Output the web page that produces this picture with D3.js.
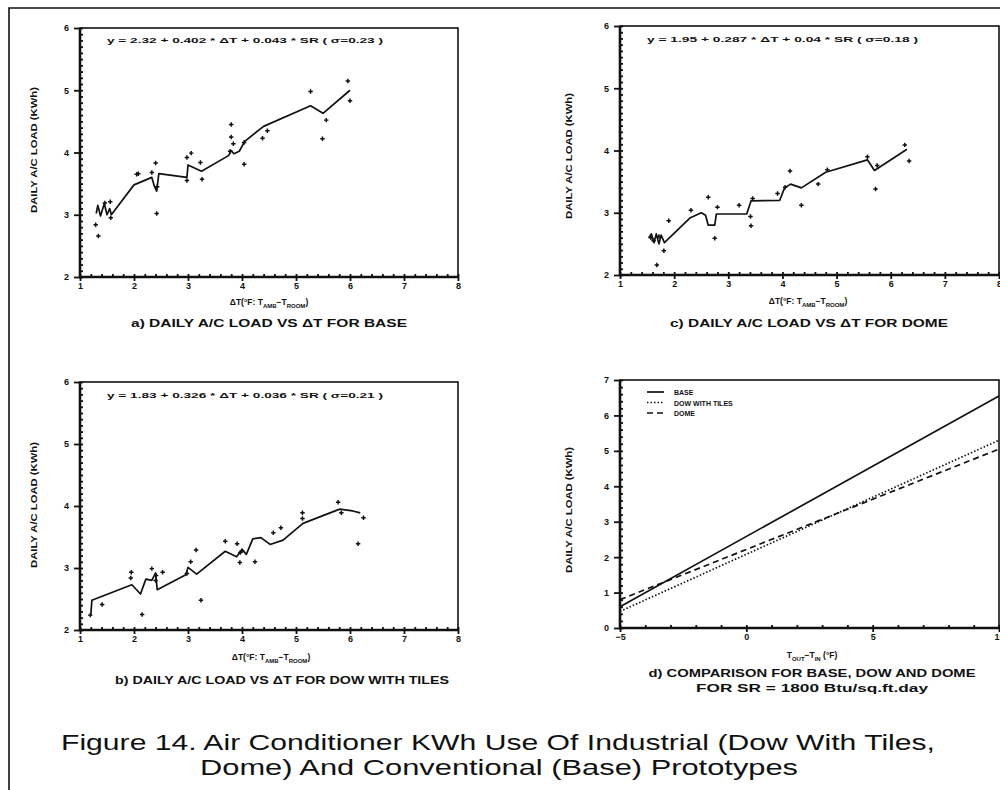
<!DOCTYPE html>
<html><head><meta charset="utf-8">
<script src="https://cdn.jsdelivr.net/npm/d3@7"></script>
<style>
body{margin:0;background:#fff;}
svg text{font-family:"Liberation Sans",Arial,sans-serif;font-weight:bold;fill:#111;}
</style></head>
<body><svg id="c" width="1000" height="790"></svg>
<script>
// ---------- DATA ----------
// Panel a) BASE
const A_dT   = [1.29,1.34,1.46,1.56,1.57,2.05,2.08,2.33,2.40,2.42,2.43,2.98,3.06,2.98,3.23,3.26,3.80,3.80,3.78,3.84,4.04,4.04,4.38,4.47,5.27,5.49,5.56,5.96,6.00];
const A_load = [2.84,2.66,3.19,3.21,2.95,3.65,3.66,3.68,3.83,3.02,3.45,3.92,3.99,3.55,3.84,3.57,4.45,4.25,4.02,4.14,4.16,3.81,4.23,4.35,4.98,4.22,4.52,5.15,4.83];
const A_fitX = [1.30,1.33,1.38,1.45,1.50,1.55,1.58,2.00,2.33,2.38,2.42,2.46,2.98,3.00,3.05,3.25,3.75,3.80,3.85,3.95,4.05,4.40,5.27,5.50,6.00];
const A_fitY = [3.02,3.15,2.98,3.18,3.00,3.10,3.00,3.48,3.60,3.45,3.38,3.66,3.60,3.80,3.78,3.70,3.95,4.03,3.98,4.02,4.18,4.42,4.75,4.63,5.00];
// Panel c) DOME
const C_dT   = [1.57,1.62,1.68,1.72,1.81,1.90,2.31,2.63,2.75,2.80,3.20,3.42,3.41,3.45,3.91,4.05,4.14,4.35,4.66,4.83,5.57,5.72,5.75,6.26,6.34];
const C_load = [2.60,2.55,2.16,2.62,2.39,2.87,3.04,3.25,2.59,3.09,3.12,2.79,2.94,3.23,3.31,3.41,3.67,3.12,3.46,3.69,3.90,3.38,3.76,4.09,3.83];
const C_fitX = [1.53,1.58,1.63,1.67,1.72,1.76,1.82,2.30,2.50,2.58,2.63,2.75,2.78,3.34,3.42,3.95,4.04,4.15,4.35,4.80,5.57,5.70,6.30];
const C_fitY = [2.60,2.66,2.52,2.66,2.50,2.64,2.52,2.92,3.00,2.96,2.80,2.80,2.98,2.98,3.19,3.20,3.40,3.46,3.40,3.65,3.85,3.68,4.02];
// Panel b) DOW WITH TILES
const B_dT   = [1.19,1.41,1.94,1.95,2.15,2.33,2.40,2.41,2.53,2.98,3.05,3.15,3.24,3.69,3.91,3.96,3.97,4.00,4.24,4.58,4.72,5.12,5.12,5.78,5.84,6.15,6.25];
const B_load = [2.24,2.41,2.84,2.93,2.25,2.99,2.80,2.88,2.93,2.91,3.10,3.29,2.48,3.43,3.39,3.09,3.25,3.28,3.10,3.57,3.65,3.89,3.80,4.06,3.89,3.39,3.81];
const B_fitX = [1.20,1.22,1.96,2.12,2.22,2.33,2.40,2.43,2.96,3.00,3.16,3.69,3.90,4.00,4.08,4.20,4.35,4.52,4.76,5.13,5.81,6.05,6.19];
const B_fitY = [2.24,2.48,2.73,2.58,2.82,2.80,2.92,2.65,2.89,3.01,2.90,3.27,3.18,3.30,3.22,3.47,3.49,3.38,3.45,3.72,3.95,3.92,3.89];
// Panel d) comparison lines (T_out - T_in)
const D_x     = [-5, 10];
const D_base  = [0.60, 6.55];
const D_dow   = [0.47, 5.30];
const D_dome  = [0.80, 5.05];
const D_names = ["BASE", "DOW WITH TILES", "DOME"];
// Ticks
const scatterXTicks = [1,2,3,4,5,6,7,8];
const scatterYTicks = [2,3,4,5,6];
const compXTicks = [-5,0,5,10];
const compYTicks = [0,1,2,3,4,5,6,7];
// Texts
const eqA = "y = 2.32 + 0.402 * ΔT + 0.043 * SR ( σ=0.23 )";
const eqC = "y = 1.95 + 0.287 * ΔT + 0.04 * SR ( σ=0.18 )";
const eqB = "y = 1.83 + 0.326 * ΔT + 0.036 * SR ( σ=0.21 )";
const capA = "a) DAILY A/C LOAD VS ΔT FOR BASE";
const capC = "c) DAILY A/C LOAD VS ΔT FOR DOME";
const capB = "b) DAILY A/C LOAD VS ΔT FOR DOW WITH TILES";
const capD1 = "d) COMPARISON FOR BASE, DOW AND DOME";
const capD2 = "FOR SR = 1800 Btu/sq.ft.day";
const yTitle = "DAILY A/C LOAD (KWh)";
const title1 = "Figure 14. Air Conditioner KWh Use Of Industrial (Dow With Tiles,";
const title2 = "Dome) And Conventional (Base) Prototypes";

// ---------- DRAW ----------
const svg = d3.select("#c");
svg.append("rect").attr("width",1000).attr("height",790).attr("fill","#fff");
// frame
svg.append("path").attr("d","M9,790 V8 H1000").attr("fill","none").attr("stroke","#111").attr("stroke-width",1.6);

function frame(g, x, y, minorX, minorY, xt, yt){
  const [x0,x1] = x.range(), [y0,y1] = y.range();
  g.append("g").attr("transform",`translate(0,${y0})`)
    .call(d3.axisTop(x).tickValues(minorX).tickSize(3).tickFormat(""))
    .call(a=>a.select(".domain").remove());
  g.append("g").attr("transform",`translate(${x0},0)`)
    .call(d3.axisRight(y).tickValues(minorY).tickSize(3).tickFormat(""))
    .call(a=>a.select(".domain").remove());
  g.append("g").attr("transform",`translate(0,${y0})`)
    .call(d3.axisBottom(x).tickValues(xt).tickSize(4).tickPadding(2).tickFormat(d3.format("d")))
    .call(a=>a.select(".domain").remove())
    .call(a=>a.selectAll("text").attr("font-size",9));
  g.append("g").attr("transform",`translate(${x0},0)`)
    .call(d3.axisLeft(y).tickValues(yt).tickSize(6).tickPadding(5).tickFormat(d3.format("d")))
    .call(a=>a.select(".domain").remove())
    .call(a=>a.selectAll("text").attr("font-size",9));
  g.selectAll(".tick line").attr("stroke","#111").attr("stroke-width",1.8);
  g.selectAll(".tick text").attr("fill","#111").style("font-weight","bold");
  g.append("rect").attr("x",x0).attr("y",y1).attr("width",x1-x0).attr("height",y0-y1)
    .attr("fill","none").attr("stroke","#111").attr("stroke-width",1.6);
  g.append("path").attr("d",`M${x0},${y1} V${y0} H${x1}`).attr("fill","none").attr("stroke","#111").attr("stroke-width",2.6);
}

function yLabel(cx, cy){
  svg.append("text").attr("transform",`translate(${cx},${cy}) rotate(-90)`)
    .attr("text-anchor","middle").attr("font-size",8.5).attr("textLength",126).attr("lengthAdjust","spacingAndGlyphs")
    .text(yTitle);
}

function subLabel(cx, cy, parts){
  const t = svg.append("text").attr("x",cx).attr("y",cy).attr("text-anchor","middle").attr("font-size",8.5);
  parts.forEach(p=>{
    const s = t.append("tspan").text(p[0]);
    if(p[1]) s.attr("font-size",6).attr("dy",2.5);
    else if(p[2]) s.attr("dy",-2.5);
  });
  return t;
}

function caption(cx, cy, txt, len, size){
  svg.append("text").attr("x",cx).attr("y",cy).attr("text-anchor","middle")
    .attr("font-size",size||11).attr("textLength",len).attr("lengthAdjust","spacingAndGlyphs").text(txt);
}

const dtParts = [["ΔT(°F: T",0],["AMB",1],["−T",0,1],["ROOM",1],[")",0,1]];

function scatterPanel(box, xs, ys, fx, fy, eq, eqX, eqY, eqLen){
  const x = d3.scaleLinear().domain([1,8]).range([box.l, box.r]);
  const y = d3.scaleLinear().domain([2,6]).range([box.b, box.t]);
  const g = svg.append("g");
  frame(g, x, y, d3.range(1,8.001,0.2), d3.range(2,6.001,0.1), scatterXTicks, scatterYTicks);
  g.append("path").datum(fx.map((v,i)=>[v,fy[i]]))
    .attr("d", d3.line().x(d=>x(d[0])).y(d=>y(d[1])))
    .attr("fill","none").attr("stroke","#111").attr("stroke-width",1.7).attr("stroke-linejoin","round");
  g.selectAll("path.pt").data(xs.map((v,i)=>[v,ys[i]])).enter().append("path").attr("class","pt")
    .attr("transform",d=>`translate(${x(d[0])},${y(d[1])})`)
    .attr("d", d3.symbol(d3.symbolCross, 11)).attr("fill","#111");
  svg.append("text").attr("x",eqX).attr("y",eqY).attr("font-size",7.5)
    .attr("textLength",eqLen).attr("lengthAdjust","spacingAndGlyphs").text(eq);
}

// panel a
scatterPanel({l:80,r:458,t:28,b:277}, A_dT, A_load, A_fitX, A_fitY, eqA, 107, 43, 276);
yLabel(37,150);
subLabel(269,305,dtParts);
caption(269,327,capA,276,11);

// panel c
scatterPanel({l:620,r:999,t:26,b:275}, C_dT, C_load, C_fitX, C_fitY, eqC, 647, 42, 271);
yLabel(572,156);
subLabel(808,304,dtParts);
caption(809,327,capC,278,11);

// panel b
scatterPanel({l:80,r:458,t:382,b:630}, B_dT, B_load, B_fitX, B_fitY, eqB, 107, 398, 276);
yLabel(37,505);
subLabel(271,660,dtParts);
caption(282,684,capB,334,11);

// panel d
(function(){
  const box = {l:620,r:999,t:380,b:628};
  const x = d3.scaleLinear().domain([-5,10]).range([box.l, box.r]);
  const y = d3.scaleLinear().domain([0,7]).range([box.b, box.t]);
  const g = svg.append("g");
  frame(g, x, y, d3.range(-5,10.001,1), d3.range(0,7.001,0.2), compXTicks, compYTicks);
  const styles = [null, "1.5,2", "6,4"];
  const series = [D_base, D_dow, D_dome];
  series.forEach((s,k)=>{
    g.append("path").datum(D_x.map((v,i)=>[v,s[i]]))
      .attr("d", d3.line().x(d=>x(d[0])).y(d=>y(d[1])))
      .attr("fill","none").attr("stroke","#111").attr("stroke-width",1.7)
      .attr("stroke-dasharray", styles[k]);
    const ly = 392 + k*10.5;
    g.append("line").attr("x1",647).attr("x2",664).attr("y1",ly).attr("y2",ly)
      .attr("stroke","#111").attr("stroke-width",1.7).attr("stroke-dasharray",styles[k]);
    g.append("text").attr("x",674).attr("y",ly+3).attr("font-size",7).text(D_names[k]);
  });
  yLabel(572,510);
  subLabel(812,658,[["T",0],["OUT",1],["−T",0,1],["IN",1],["  (°F)",0,1]]);
  caption(812,677,capD1,327,11);
  caption(812,692,capD2,232,11);
})();

// figure title
svg.append("text").attr("x",498).attr("y",750).attr("text-anchor","middle")
  .attr("font-size",22).style("font-weight","normal").attr("textLength",874).attr("lengthAdjust","spacingAndGlyphs").text(title1);
svg.append("text").attr("x",499).attr("y",775).attr("text-anchor","middle")
  .attr("font-size",22).style("font-weight","normal").attr("textLength",598).attr("lengthAdjust","spacingAndGlyphs").text(title2);
</script></body></html>
